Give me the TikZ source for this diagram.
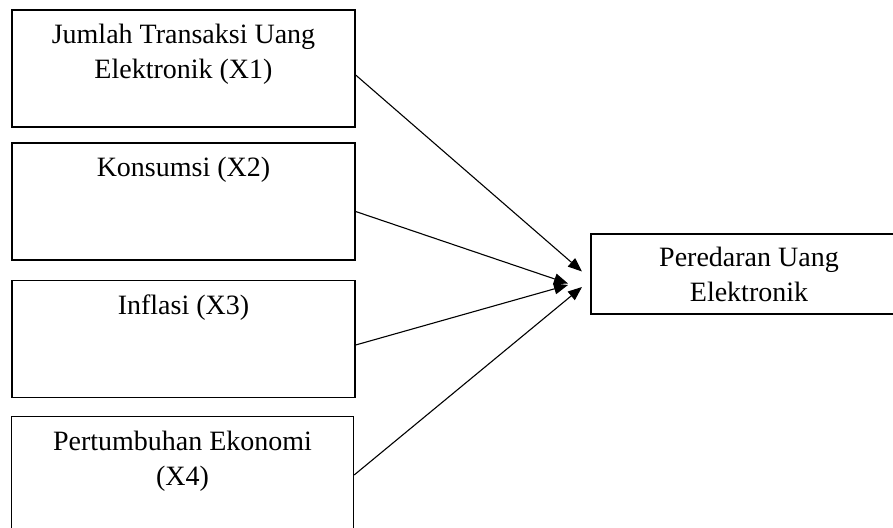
\documentclass[tikz,border=0pt]{standalone}
\usepackage{fontspec}
\setmainfont{Liberation Serif}
\usetikzlibrary{
	calc,
	arrows.meta,
	positioning
	}
\tikzstyle{kotak}=[draw,line width=1.3pt,rectangle,inner sep=0pt,minimum width=343pt,minimum height=117pt]
\tikzstyle{teks}=[align=center,inner sep=0pt,font=\fontsize{28}{35}\selectfont]
\tikzstyle{panah}=[-{Triangle[length=14pt,width=11pt]},line width=1.1pt]

\begin{document}
\begin{tikzpicture}[x=1pt,y=-1pt]
\useasboundingbox (0,0) rectangle (893,527);
\clip (0,0) rectangle (893,527);

\node[kotak] (x1) at (183.5,68.5) {};
\node[kotak] (x2) at (183.5,201.5) {};
\node[kotak] (x3) at (183.5,339) {};
\node[kotak,minimum width=342pt] (x4) at (182.5,475) {};
\node[kotak,teks,minimum width=316pt,minimum height=80pt] (y) at (749,274) {Peredaran Uang\\Elektronik};

\node[teks,anchor=north] (t1) at ([yshift=-15pt]x1.north) {Jumlah Transaksi Uang\\Elektronik (X1)};
\node[teks,anchor=north] (t2) at ([yshift=-15pt]x2.north) {Konsumsi (X2)};
\node[teks,anchor=north] (t3) at ([yshift=-15pt]x3.north) {Inflasi (X3)};
\node[teks,anchor=north] (t4) at ([yshift=-15pt]x4.north) {Pertumbuhan Ekonomi\\(X4)};

\coordinate (e1) at (582,271.5);
\coordinate (e2) at (568,283.5);
\coordinate (e3) at (568,285);
\coordinate (e4) at (582,287);

\draw[panah] ([yshift=-6.5pt]x1.east) -- (e1);
\draw[panah] ([yshift=-10pt]x2.east) -- (e2);
\draw[panah] ([yshift=-6pt]x3.east) -- (e3);
\draw[panah] (x4.east) -- (e4);
\end{tikzpicture}
\end{document}
